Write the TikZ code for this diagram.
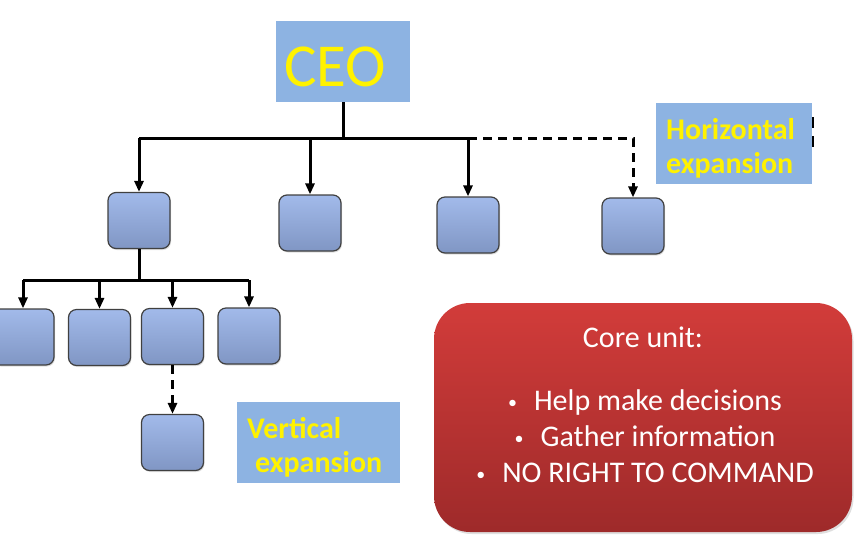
\documentclass[tikz,border=0pt]{standalone}
\usepackage{fontspec}
\setmainfont{Carlito}
\usetikzlibrary{arrows.meta,shadows}
\definecolor{lblue}{RGB}{141,179,226}
\definecolor{btop}{RGB}{162,186,234}
\definecolor{bbot}{RGB}{128,150,196}
\definecolor{rtop}{RGB}{210,60,58}
\definecolor{rbot}{RGB}{158,42,42}
\newcommand{\blt}{{\fontsize{18}{18}\selectfont\raisebox{2pt}{•}}\hspace{17pt}}
\tikzset{
  unit/.style={draw=black!75, line width=1.2pt, rounded corners=8pt,
    top color=btop, bottom color=bbot, minimum width=62pt, minimum height=56pt,
    inner sep=0pt, drop shadow={opacity=0.25, shadow xshift=1pt, shadow yshift=-1.5pt}},
  label box/.style={fill=lblue, inner sep=0pt},
  ytext/.style={text=yellow, font=\fontsize{30}{34}\selectfont\bfseries, anchor=base west, inner sep=0pt},
  wtext/.style={text=white, font=\fontsize{30}{34}\selectfont, anchor=base, inner sep=0pt},
  conn/.style={line width=3pt, black},
  arr/.style={conn, -{Triangle[length=11pt,width=9pt]}},
  dconn/.style={conn, dash pattern=on 9pt off 6pt},
  darr/.style={dconn, -{Triangle[length=11pt,width=9pt]}},
}
\begin{document}
\begin{tikzpicture}[x=1pt,y=-1pt]
\useasboundingbox (0,0) rectangle (867,550);
\clip (0,0) rectangle (867,550);
% CEO
\node[label box, minimum width=134pt, minimum height=81pt] (ceo) at (343,61.5) {};
\node[text=yellow, font=\fontsize{61}{61}\selectfont, anchor=base west, inner sep=0pt] (ceotext) at (284,86) {CEO};
% Horizontal expansion
\node[label box, minimum width=156pt, minimum height=81pt] (hx) at (734,143.5) {};
\node[ytext] (hx1) at (666,139) {Horizontal};
\node[ytext] (hx2) at (666,173) {expansion};
\coordinate (mk1) at (813,117);
\coordinate (mk2) at (813,150);
\draw[line width=2pt, dash pattern=on 11pt off 8pt] (mk1) -- (mk2);
% Vertical expansion
\node[label box, minimum width=163pt, minimum height=81pt] (vx) at (318.5,442.5) {};
\node[ytext] (vx1) at (247,438) {Vertical};
\node[ytext] (vx2) at (255,472) {expansion};
% Level 2 units
\node[unit] (A) at (139,220.5) {};
\node[unit] (B) at (310,223) {};
\node[unit] (C) at (468,225) {};
\node[unit] (D) at (633,226) {};
% Level 3 units
\node[unit] (E) at (23,337) {};
\node[unit] (F) at (99.5,337.5) {};
\node[unit] (G) at (172.5,336.5) {};
\node[unit] (H) at (249,336) {};
\node[unit] (I) at (172.5,442.5) {};
% Connectors level 1
\draw[conn] (ceo.south) -- ++(0,36) coordinate (j1);
\draw[conn] (A.north |- j1) -- (C.north |- j1);
\draw[arr] (A.north |- j1) -- (A.north);
\draw[arr] (B.north |- j1) -- (B.north);
\draw[arr] (C.north |- j1) -- (C.north);
\draw[darr] (C.north |- j1) -| (D.north);
% Connectors level 2
\draw[conn] (A.south) -- ++(0,31) coordinate (j2);
\draw[conn] (E.north |- j2) -- (H.north |- j2);
\draw[arr] (E.north |- j2) -- (E.north);
\draw[arr] (F.north |- j2) -- (F.north);
\draw[arr] (G.north |- j2) -- (G.north);
\draw[arr] (H.north |- j2) -- (H.north);
\draw[darr] (G.south) -- (I.north);
% Core unit
\node[rounded corners=36pt, top color=rtop, bottom color=rbot, minimum width=418pt, minimum height=229pt,
  drop shadow={opacity=0.25, shadow xshift=1.5pt, shadow yshift=-2pt}] (core) at (643,417.5) {};
\node[wtext] (c0) at (643,347) {Core unit:};
\node[wtext] (c1) at (645,410) {\blt Help make decisions};
\node[wtext] (c2) at (645,446) {\blt Gather information};
\node[wtext] (c3) at (645,482) {\blt NO RIGHT TO COMMAND};
\end{tikzpicture}
\end{document}
